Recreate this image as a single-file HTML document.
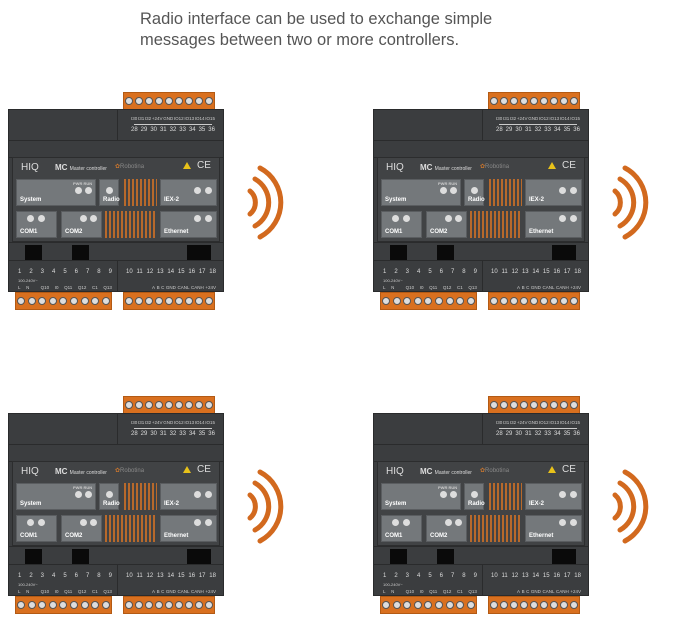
<!DOCTYPE html><html><head><meta charset="utf-8"><style>
body{margin:0;width:679px;height:633px;background:#fff;position:relative;overflow:hidden;font-family:"Liberation Sans",sans-serif}
.t{position:absolute;left:140px;top:9px;font-size:16.5px;color:#555;line-height:21px}
.c{position:absolute;width:216px;height:218px}
.c div{position:absolute;box-sizing:border-box}
.term{background:#d9701f;height:18px;display:flex;justify-content:space-around;align-items:center;border:1px solid #b35a14}
.term i{width:8px;height:8px;border-radius:50%;background:#ddd;border:1px solid #555;box-sizing:border-box;display:block}
.body{left:0;top:17px;width:216px;height:183px;background:#3b3d3f;border:1px solid #2a2b2c}
.panel{background:#414345;border:1px solid #2c2d2e}
.bx{background:#74787b;border:1px solid #5a5d60;color:#fff;font-size:6px;font-weight:bold}
.bx b{position:absolute;left:3px;bottom:2px}
.led{width:7px;height:7px;border-radius:50%;background:#ddd}
.or{background:linear-gradient(90deg,#b8692b 0,#b8692b 2px,transparent 2px) 0 0/4px 100% repeat-x}
.blk{background:#0a0a0a}
.sm{color:#ccc;font-size:4.5px;white-space:nowrap;display:flex;justify-content:space-between}
.n{color:#ddd;font-size:6px;white-space:nowrap;display:flex;justify-content:space-between}
</style></head><body>
<div class="t">Radio interface can be used to exchange simple<br>messages between two or more controllers.</div>

<template id="tp">
<div class="term" style="left:115px;top:0;width:92px;height:18px"><i></i><i></i><i></i><i></i><i></i><i></i><i></i><i></i><i></i></div>
<div class="body"></div>
<div style="left:1px;top:48px;width:214px;height:1px;background:#2a2b2c"></div>
<div style="left:109px;top:18px;width:1px;height:30px;background:#2a2b2c"></div>
<div class="sm" style="left:123px;top:24px;width:84px"><span>I30</span><span>I31</span><span>I32</span><span>+24V</span><span>GND</span><span>IO12</span><span>IO13</span><span>IO14</span><span>IO15</span></div>
<div style="left:126px;top:31px;width:78px;height:2px;border-bottom:1px solid #ccc"></div>
<div class="n" style="left:123px;top:35px;width:84px"><span>28</span><span>29</span><span>30</span><span>31</span><span>32</span><span>33</span><span>34</span><span>35</span><span>36</span></div>
<div style="left:1px;top:65px;width:214px;height:1px;background:#2a2b2c"></div>
<div class="panel" style="left:4px;top:65px;width:208px;height:85px">
 <div style="left:8px;top:4px;color:#ddd;font-size:10px">HIQ</div>
 <div style="left:42px;top:5px;color:#ddd;font-size:8px;font-weight:bold">MC <span style="font-size:5px;font-weight:normal">Master controller</span></div>
 <div style="left:102px;top:5px;color:#c5742f;font-size:6px">✿<span style="color:#888">Robotina</span></div>
 <div style="left:170px;top:4px;width:0;height:0;border-left:4px solid transparent;border-right:4px solid transparent;border-bottom:7px solid #e8c21a"></div>
 <div style="left:184px;top:2px;color:#ddd;font-size:10px">CE</div>
 <div class="bx" style="left:3px;top:21px;width:80px;height:27px"><div class="sm" style="left:56px;top:1px;font-size:4px">PWR RUN</div><div class="led" style="left:58px;top:7px"></div><div class="led" style="left:68px;top:7px"></div><b>System</b></div>
 <div class="bx" style="left:86px;top:21px;width:20px;height:27px"><div class="led" style="left:6px;top:7px"></div><b>Radio</b></div>
 <div class="or" style="left:111px;top:21px;width:33px;height:27px"></div>
 <div class="bx" style="left:147px;top:21px;width:57px;height:27px"><div class="led" style="left:33px;top:7px"></div><div class="led" style="left:44px;top:7px"></div><b>IEX-2</b></div>
 <div class="bx" style="left:3px;top:53px;width:41px;height:27px"><div class="led" style="left:10px;top:3px"></div><div class="led" style="left:21px;top:3px"></div><b>COM1</b></div>
 <div class="bx" style="left:48px;top:53px;width:41px;height:27px"><div class="led" style="left:18px;top:3px"></div><div class="led" style="left:28px;top:3px"></div><b>COM2</b></div>
 <div class="or" style="left:92px;top:53px;width:52px;height:27px"></div>
 <div class="bx" style="left:147px;top:53px;width:57px;height:27px"><div class="led" style="left:33px;top:3px"></div><div class="led" style="left:44px;top:3px"></div><b>Ethernet</b></div>
</div>
<div style="left:1px;top:150px;width:214px;height:1px;background:#2a2b2c"></div>
<div class="blk" style="left:17px;top:153px;width:17px;height:15px"></div>
<div class="blk" style="left:64px;top:153px;width:17px;height:15px"></div>
<div class="blk" style="left:179px;top:153px;width:24px;height:15px"></div>
<div style="left:1px;top:168px;width:214px;height:1px;background:#2a2b2c"></div>
<div style="left:109px;top:169px;width:1px;height:30px;background:#2a2b2c"></div>
<div class="n" style="left:10px;top:177px;width:94px"><span>1</span><span>2</span><span>3</span><span>4</span><span>5</span><span>6</span><span>7</span><span>8</span><span>9</span></div>
<div class="n" style="left:118px;top:177px;width:90px"><span>10</span><span>11</span><span>12</span><span>13</span><span>14</span><span>15</span><span>16</span><span>17</span><span>18</span></div>
<div class="sm" style="left:10px;top:186px;font-size:4px">100-240V~</div>
<div class="sm" style="left:10px;top:193px;width:94px"><span>L</span><span>N</span><span></span><span>Q10</span><span>I0</span><span>Q11</span><span>Q12</span><span>C1</span><span>Q13</span></div>
<div class="sm" style="left:144px;top:193px;width:64px"><span>A</span><span>B</span><span>C</span><span>GND</span><span>CANL</span><span>CANH</span><span>+24V</span></div>
<div class="term" style="left:7px;top:200px;width:97px"><i></i><i></i><i></i><i></i><i></i><i></i><i></i><i></i><i></i></div>
<div class="term" style="left:115px;top:200px;width:92px"><i></i><i></i><i></i><i></i><i></i><i></i><i></i><i></i><i></i></div>
</template>

<div class="c" style="left:8px;top:92px"></div>
<div class="c" style="left:373px;top:92px"></div>
<div class="c" style="left:8px;top:396px"></div>
<div class="c" style="left:373px;top:396px"></div>

<svg width="679" height="633" style="position:absolute;left:0;top:0" fill="none" stroke="#d2691e" stroke-width="5" stroke-linecap="round">
<g id="w"><path d="M250 191 A15 15 0 0 1 250 214"/><path d="M255 179 A27 27 0 0 1 255 226"/><path d="M260 168 A39 39 0 0 1 260 237"/></g>
<use href="#w" x="365" y="0"/><use href="#w" x="0" y="304"/><use href="#w" x="365" y="304"/>
</svg>
<script>
var t=document.getElementById('tp').innerHTML;
document.querySelectorAll('.c').forEach(function(e){e.innerHTML=t});
</script>
</body></html>
